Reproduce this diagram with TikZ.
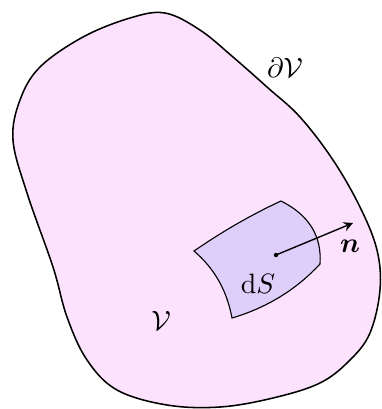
\documentclass[tikz,border=0pt]{standalone}
\usepackage{amsmath, amssymb, amsfonts}
\usepackage{bm}
\usepackage{tikz}
\usetikzlibrary{arrows.meta}
\usepackage{xcolor}
\definecolor{volpink}{RGB}{252,226,252}
\definecolor{patchlav}{RGB}{222,206,250}

\begin{document}
\begin{tikzpicture}[x=0.357pt, y=-0.357pt, >=stealth,
  region/.style={draw, line width=0.55pt, fill=volpink},
  patch/.style={draw, line width=0.4pt, fill=patchlav}]
  \useasboundingbox (0,0) rectangle (382,409);
  % the volume and its boundary
  \draw[region] plot[smooth cycle, tension=0.6] coordinates {
    (165,13) (200,30) (233,57) (267,87) (300,117) (333,160) (360,207)
    (377,250) (380,290) (370,333) (350,360) (320,383) (273,398) (220,407)
    (167,405) (117,390) (87,360) (67,317) (53,267) (27,193) (13,140)
    (20,100) (40,67) (83,37) (130,18)};
  % surface element
  \coordinate (A) at (194,251);
  \coordinate (B) at (281,201);
  \coordinate (C) at (320,264);
  \coordinate (D) at (232,318);
  \draw[patch] (A) .. controls (226,229) and (255,213) .. (B)
    .. controls (309,215) and (322,236) .. (C)
    .. controls (296,290) and (266,308) .. (D)
    .. controls (227,291) and (215,269) .. (A) -- cycle;
  % normal
  \coordinate (P) at (276,255);
  \coordinate (Q) at (353,223);
  \draw[->, line width=0.5pt] (P) -- (Q);
  \fill (P) circle (2.2);
  \node (n) at (350,246) {$\boldsymbol{n}$};
  \node (dS) at (258,284) {$\mathrm{d}S$};
  \node (dV) at (285,68) {$\partial\mathcal{V}$};
  \node (V) at (161,321) {$\mathcal{V}$};
\end{tikzpicture}
\end{document}
